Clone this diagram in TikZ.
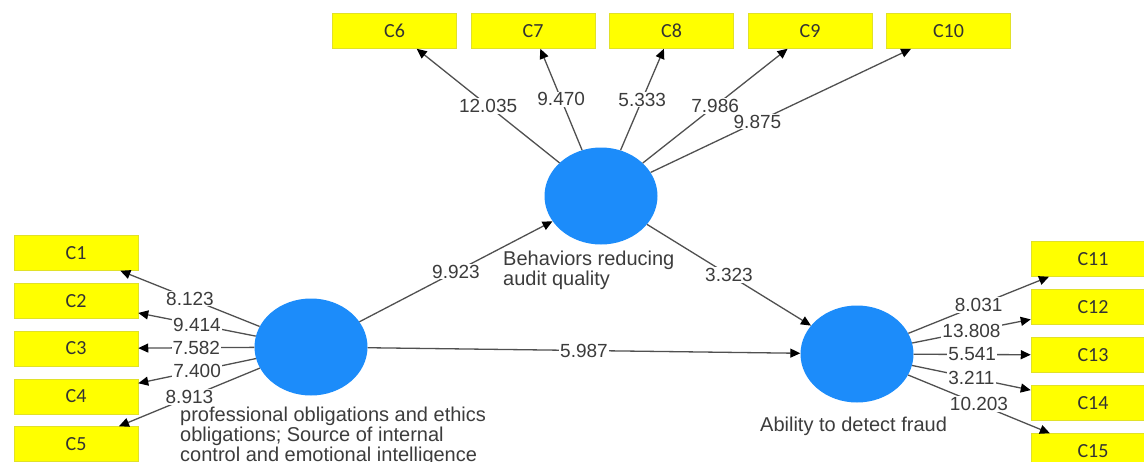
\documentclass[tikz,border=0pt]{standalone}
\usepackage{fontspec}
\setmainfont{Liberation Sans}
\newfontfamily\boxfont{Carlito}
\usepackage{tikz}
\usetikzlibrary{shapes.geometric, positioning, arrows.meta}
\definecolor{lvblue}{RGB}{28,140,250}
\definecolor{indyellow}{RGB}{255,255,0}
\definecolor{indedge}{RGB}{225,225,40}
\definecolor{edgegray}{RGB}{80,80,80}
\definecolor{txtgray}{RGB}{60,60,60}
\tikzset{
latent/.style={shape=ellipse, minimum width=113pt, minimum height=97pt, inner sep=0, fill=lvblue},
indicator/.style={shape=rectangle, minimum width=124pt, minimum height=35pt, inner sep=0, fill=indyellow, draw=indedge, line width=0.5pt, font=\boxfont\fontsize{20}{20}\selectfont, text=black!80},
path/.style={draw=edgegray, line width=1.3pt, -{Triangle[length=10pt, width=9pt, color=black]}},
weight/.style={fill=white, inner sep=1pt, text=txtgray, font=\fontsize{19}{20}\selectfont},
caption/.style={anchor=north west, inner sep=0, align=left, text=txtgray, font=\fontsize{20}{20}\selectfont}}
\begin{document}
\begin{tikzpicture}[x=1pt, y=-1pt]
\useasboundingbox (0,0) rectangle (1144,461);
\clip (0,0) rectangle (1144,461);
\node [latent] at (311,347) (lv-a) {};
\node [latent] at (601,196) (lv-b) {};
\node [latent] at (857,354) (lv-c) {};
\node [caption] at (180,407) (cap-a) {professional obligations and ethics\\obligations; Source of internal\\control and emotional intelligence};
\node [caption] at (503,251) (cap-b) {Behaviors reducing\\audit quality};
\node [caption] at (760,417) (cap-c) {Ability to detect fraud};
% outer loadings
\foreach \val [count=\i, evaluate={\y=253+47.75*(\i-1);}] in {8.123, 9.414, 7.582, 7.400, 8.913}{
      \node [indicator] at (76,\y) (c-\i) {C\i};
      \draw [path] (lv-a) -- node [weight] {\val} (c-\i);
}
\foreach \val/\p [count=\i, evaluate={\k=int(\i+5); \x=394.5+138.5*(\i-1);}] in {12.035/0.5, 9.470/0.5, 5.333/0.5, 7.986/0.5, 9.875/0.41}{
      \node [indicator] at (\x,31) (c-\k) {C\k};
      \draw [path] (lv-b) -- node [weight, pos=\p] {\val} (c-\k);
}
\foreach \val [count=\i, evaluate={\k=int(\i+10); \y=259+48*(\i-1);}] in {8.031, 13.808, 5.541, 3.211, 10.203}{
      \node [indicator] at (1093,\y) (c-\k) {C\k};
      \draw [path] (lv-c) -- node [weight] {\val} (c-\k);
}
% inner model
\draw [path] (lv-a) -- node [weight] {9.923} (lv-b);
\draw [path] (lv-b) -- node [weight] {3.323} (lv-c);
\draw [path] (lv-a) -- node [weight] {5.987} (lv-c);
\end{tikzpicture}
\end{document}
